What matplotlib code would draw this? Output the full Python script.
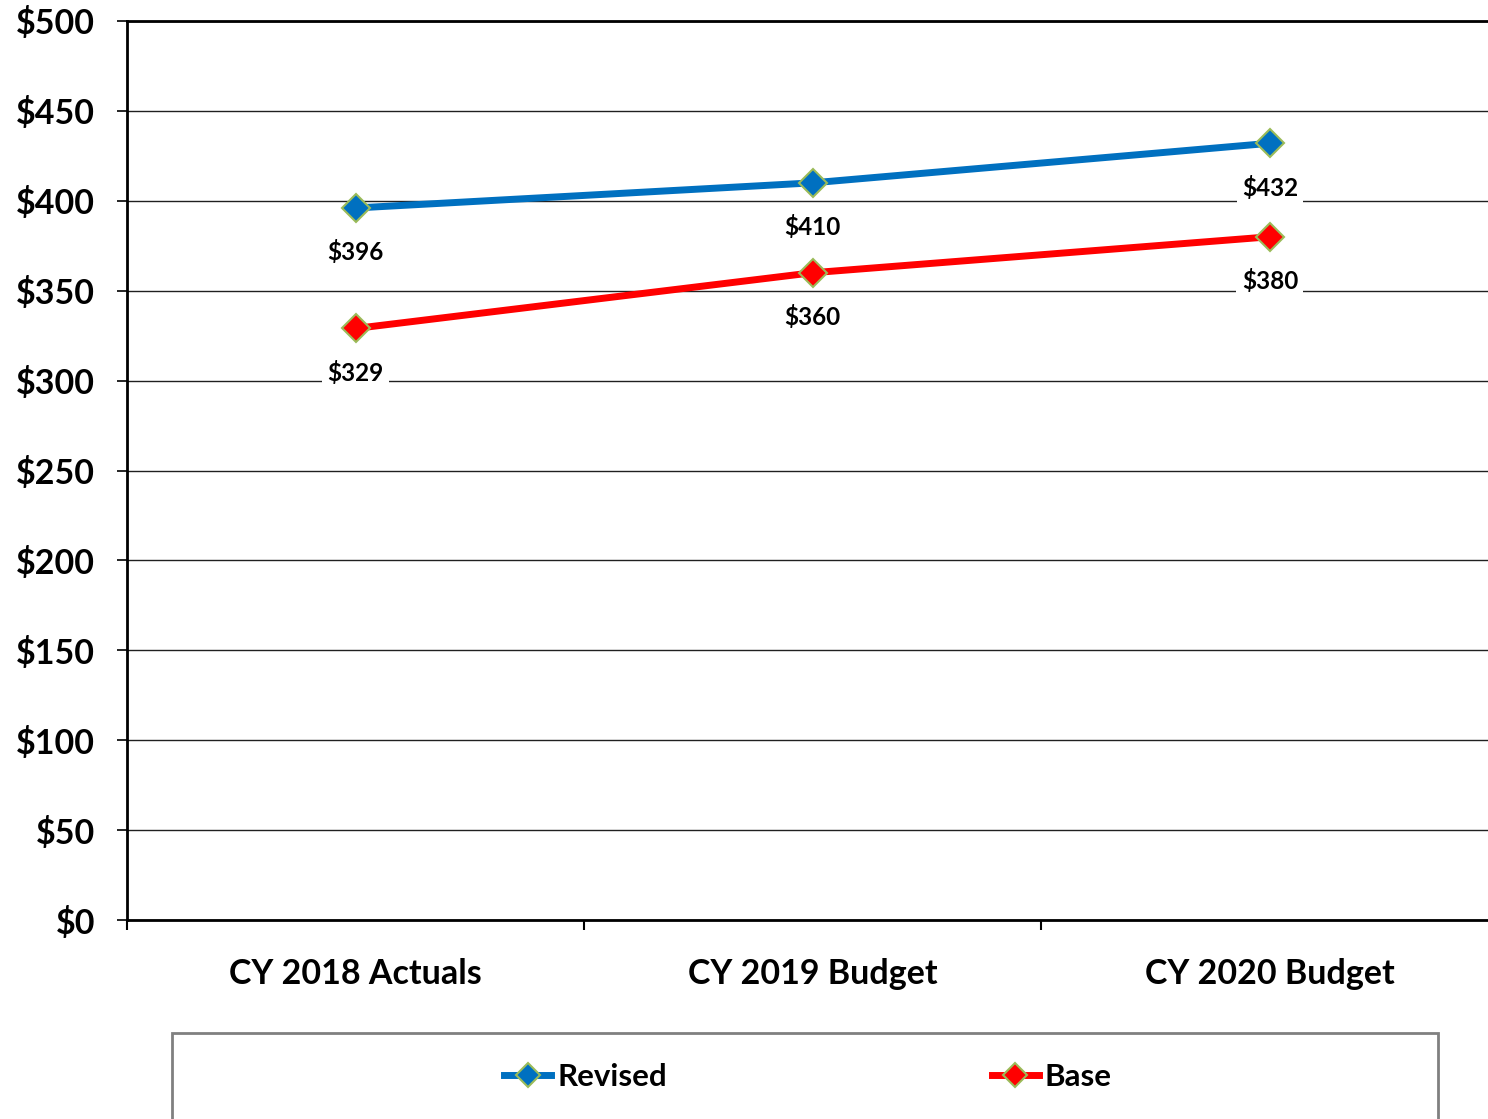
import matplotlib
matplotlib.use("Agg")
import matplotlib.pyplot as plt
from matplotlib.patches import Rectangle

categories = ["CY 2018 Actuals", "CY 2019 Budget", "CY 2020 Budget"]
revised = [396, 410, 432]
base = [329, 360, 380]
yticks = [0, 50, 100, 150, 200, 250, 300, 350, 400, 450, 500]

plt.rcParams['font.family'] = ['Lato', 'DejaVu Sans']
plt.rcParams['font.weight'] = 'bold'

W, H = 1488, 1119
fig = plt.figure(figsize=(W/100, H/100), dpi=100)
left = 127 / W
bottom = 1 - 920 / H
top = 1 - 21 / H
right_px = 1498.5
ax = fig.add_axes([left, bottom, (right_px - 127) / W, top - bottom])

x = list(range(len(categories)))
blue = '#0070C0'
red = '#FF0000'
edge = '#9BBB59'

ax.plot(x, revised, color=blue, lw=5, marker='D', ms=14, mfc=blue, mec=edge, mew=1.5,
        label='Revised', zorder=4, clip_on=False)
ax.plot(x, base, color=red, lw=5, marker='D', ms=14, mfc=red, mec=edge, mew=1.5,
        label='Base', zorder=4, clip_on=False)

for series in (revised, base):
    for xi, v in zip(x, series):
        ax.annotate(f"${v}", (xi, v), xytext=(0, -32), textcoords='offset points',
                    ha='center', va='center', fontsize=17.5, fontweight='bold',
                    bbox=dict(boxstyle='square,pad=0.22', fc='white', ec='none'), zorder=3)

ax.set_xlim(-0.5, 2.5)
ax.set_ylim(0, 500)
ax.set_yticks(yticks)
ax.set_yticklabels([f"${t}" for t in yticks])
ax.yaxis.grid(True, color='#202020', lw=1.0, zorder=1)
ax.set_axisbelow(True)

ax.set_xticks(x)
ax.set_xticklabels(categories)
ax.set_xticks([-0.5, 0.5, 1.5, 2.5], minor=True)
ax.tick_params(axis='x', which='major', length=0, pad=27, labelsize=24.5)
ax.tick_params(axis='x', which='minor', length=7, width=1.5, direction='out', color='black')
ax.tick_params(axis='y', length=7, width=1.2, direction='out', pad=16, labelsize=24.5, color='black')
for lab in ax.get_xticklabels() + ax.get_yticklabels():
    lab.set_fontweight('bold')

ax.spines['right'].set_visible(False)
ax.spines['top'].set_linewidth(2.0)
ax.spines['left'].set_linewidth(2.0)
ax.spines['bottom'].set_linewidth(2.0)

# legend box
rect = Rectangle((172 / W, -0.05), (1438 - 172) / W, (1 - 1033 / H) + 0.05,
                 transform=fig.transFigure, fill=False, ec='#808080', lw=2)
fig.patches.append(rect)

handles, labels = ax.get_legend_handles_labels()
leg = fig.legend(handles, labels, loc='center', bbox_to_anchor=(808 / W, 1 - 1077 / H),
                 ncol=2, frameon=False, handlelength=1.5, handletextpad=0.2,
                 columnspacing=10.4, prop={'weight': 'bold', 'size': 22.5})
for h in leg.legend_handles:
    h.set_markersize(12)

fig.savefig("out.png", dpi=100)
